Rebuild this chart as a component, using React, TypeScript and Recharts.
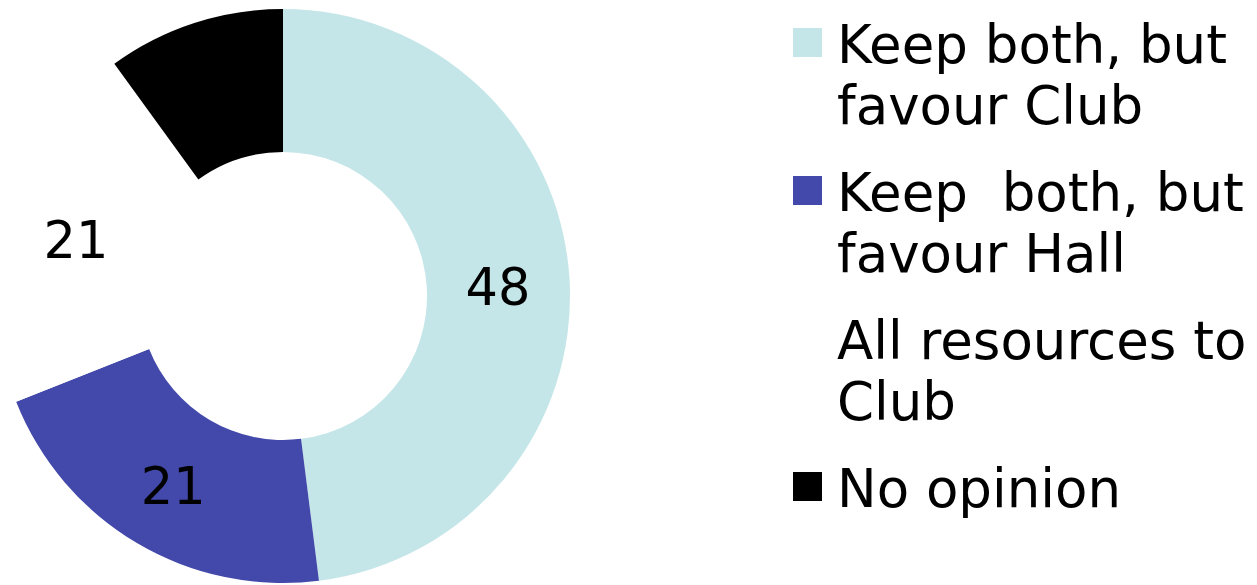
import React from 'react';
import { PieChart, Pie, Cell, Legend } from 'recharts';

const categories = [
  'Keep both, but\nfavour Club',
  'Keep  both, but\nfavour Hall',
  'All resources to\nClub',
  'No opinion',
];
const values = [48, 21, 21, 10];
const colors = ['#c5e6e8', '#4349ab', '#ffffff', '#000000'];

const data = categories.map((name, i) => ({ name, value: values[i] }));

const RADIAN = Math.PI / 180;

const renderLabel = (props: any) => {
  const { cx, cy, midAngle, innerRadius, outerRadius, value } = props;
  const r = (innerRadius + outerRadius) / 2;
  const x = cx + r * Math.cos(-midAngle * RADIAN);
  const y = cy + r * Math.sin(-midAngle * RADIAN);
  return (
    <text x={x} y={y + 5} fill="#000" fontSize={51} textAnchor="middle" dominantBaseline="central">
      {value}
    </text>
  );
};

const renderLegend = () => (
  <div style={{ fontFamily: '"DejaVu Sans", Verdana, sans-serif', fontSize: 53, lineHeight: '61px', color: '#000' }}>
    {data.map((d, i) => (
      <div key={d.name} style={{ display: 'flex', alignItems: 'flex-start', marginBottom: 26 }}>
        <div style={{ width: 29, height: 29, background: colors[i], marginTop: 14, marginRight: 15, flexShrink: 0 }} />
        <div style={{ whiteSpace: 'pre' }}>{d.name}</div>
      </div>
    ))}
  </div>
);

export default function App() {
  return (
    <div style={{ position: 'absolute', left: 0, top: 0, width: 1257, height: 585, background: '#fff', fontFamily: '"DejaVu Sans", Verdana, sans-serif' }}>
      <PieChart width={1257} height={585} margin={{ top: 0, right: 0, bottom: 0, left: 0 }}>
        <Pie
          data={data}
          dataKey="value"
          nameKey="name"
          cx={283}
          cy={296}
          innerRadius={144}
          outerRadius={287}
          startAngle={90}
          endAngle={-270}
          stroke="none"
          label={renderLabel}
          labelLine={false}
          isAnimationActive={false}
        >
          {data.map((d, i) => (
            <Cell key={d.name} fill={colors[i]} />
          ))}
        </Pie>
        <Legend
          content={renderLegend}
          layout="vertical"
          verticalAlign="top"
          align="right"
          wrapperStyle={{ left: 793, top: 14, width: 464 }}
        />
      </PieChart>
    </div>
  );
}
